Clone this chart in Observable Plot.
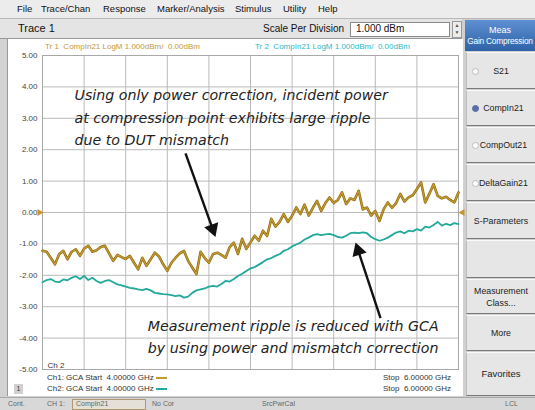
<!DOCTYPE html>
<html>
<head>
<meta charset="utf-8">
<script src="https://cdn.jsdelivr.net/npm/d3@7"></script>
<script src="https://cdn.jsdelivr.net/npm/@observablehq/plot@0.6"></script>
<style>
  html, body { margin: 0; padding: 0; }
  body { width: 535px; height: 410px; position: relative; overflow: hidden; background: #d2d2d2;
         font-family: "Liberation Sans", Arial, sans-serif; color: #222; }
  .abs { position: absolute; white-space: nowrap; }
  #menu { left: 0; top: 0; width: 535px; height: 18px; background: #ececec; border-bottom: 1px solid #b8b8b8; }
  #menu span { position: absolute; top: 3px; font-size: 9.5px; color: #111; }
  #tracebar { left: 0; top: 19px; width: 462px; height: 19px; background: #e4e4e4; border-bottom: 1px solid #999; }
  #panel { left: 7px; top: 39px; width: 455px; height: 357px; background: #fff; border-left: 1px solid #999; }
  #chart { left: 8px; top: 50px; }
  #right { left: 462px; top: 19px; width: 73px; height: 378px; background: #d0d0d0; }
  .btn { position: absolute; left: 466px; width: 69px; background: #e6e6e6; border-top: 1px solid #fafafa;
         border-bottom: 1px solid #7a7a7a; border-left: 1px solid #bdbdbd; box-sizing: border-box;
         display: flex; align-items: center; justify-content: center; text-align: center;
         font-size: 8.8px; color: #222; line-height: 12px; }
  .radio { display: inline-block; width: 5px; height: 5px; border-radius: 50%; background: #fff;
           border: 1px solid #bbb; position: absolute; left: 5px; top: 50%; margin-top: -3px; }
  #status { left: 0; top: 397px; width: 535px; height: 13px; background: #d8d8d8; border-top: 1px solid #a8a8a8; }
  #status span { position: absolute; top: 2px; font-size: 7px; color: #666; }
  .foot { font-size: 8px; color: #333; }
</style>
</head>
<body>
<div id="menu" class="abs">
  <span style="left:17px">File</span>
  <span style="left:41px">Trace/Chan</span>
  <span style="left:103px">Response</span>
  <span style="left:157px">Marker/Analysis</span>
  <span style="left:235px">Stimulus</span>
  <span style="left:283px">Utility</span>
  <span style="left:318px">Help</span>
</div>
<div id="tracebar" class="abs">
  <span class="abs" style="left:18px;top:3px;font-size:11px;color:#111">Trace 1</span>
  <span class="abs" style="left:263px;top:4px;font-size:10px;color:#111">Scale Per Division</span>
  <div class="abs" style="left:350px;top:3px;width:98px;height:13px;background:#fff;border:1px solid #8a8a8a;"></div>
  <span class="abs" style="left:356px;top:4px;font-size:10px;color:#111">1.000 dBm</span>
  <div class="abs" style="left:452px;top:2px;width:8px;height:15px;background:#ececec;border:1px solid #999;font-size:5px;line-height:7px;text-align:center;color:#555">&#9650;<br>&#9660;</div>
</div>
<div id="right" class="abs"></div>
<div class="abs" style="left:465px;top:20px;width:70px;height:31px;background:linear-gradient(#5d8fd2,#2f62a6);color:#fff;font-size:8.3px;">
  <div style="text-align:center;margin-top:5px;font-size:9px">Meas</div>
  <div style="text-align:center;margin-top:1px;letter-spacing:-0.2px">Gain Compression</div>
</div>
<div class="btn" style="top:52px;height:37px"><span class="radio"></span>S21</div>
<div class="btn" style="top:90px;height:36px"><span class="radio" style="background:#5a6fa8;border-color:#5a6fa8"></span>&nbsp;&nbsp;CompIn21</div>
<div class="btn" style="top:127px;height:36px"><span class="radio"></span>&nbsp;&nbsp;CompOut21</div>
<div class="btn" style="top:164px;height:37px"><span class="radio"></span>&nbsp;&nbsp;DeltaGain21</div>
<div class="btn" style="top:202px;height:37px">S-Parameters</div>
<div class="btn" style="top:240px;height:38px"></div>
<div class="btn" style="top:279px;height:35px">Measurement<br>Class...</div>
<div class="btn" style="top:315px;height:36px">More</div>
<div class="btn" style="top:352px;height:44px;font-size:9.5px">Favorites</div>

<div id="panel" class="abs"></div>
<span class="abs" style="left:45px;top:42px;font-size:8px;color:#c09a3a">Tr 1&nbsp; CompIn21 LogM 1.000dBm/&nbsp; 0.00dBm</span>
<span class="abs" style="left:255px;top:42px;font-size:8px;color:#2cb8c4">Tr 2&nbsp; CompIn21 LogM 1.000dBm/&nbsp; 0.00dBm</span>
<div id="chart" class="abs"></div>
<span class="abs foot" style="left:47px;top:373px">Ch1: GCA Start&nbsp; 4.00000 GHz <span style="display:inline-block;width:11px;height:2px;background:#c09a2c;vertical-align:middle"></span></span>
<span class="abs foot" style="left:47px;top:384px">Ch2: GCA Start&nbsp; 4.00000 GHz <span style="display:inline-block;width:11px;height:2px;background:#22aa9c;vertical-align:middle"></span></span>
<span class="abs foot" style="left:383px;top:373px">Stop&nbsp; 6.00000 GHz</span>
<span class="abs foot" style="left:383px;top:384px">Stop&nbsp; 6.00000 GHz</span>
<div class="abs" style="left:14px;top:384px;width:9px;height:10px;background:#d0d0d0;font-size:7px;text-align:center;line-height:10px;color:#333">1</div>

<div id="status" class="abs">
  <span style="left:8px">Cont.</span>
  <span style="left:47px">CH 1:</span>
  <div class="abs" style="left:72px;top:1px;width:72px;height:9px;border:1px solid #b09870;background:#e4e0d8"></div>
  <span style="left:76px">CompIn21</span>
  <span style="left:152px">No Cor</span>
  <span style="left:262px">SrcPwrCal</span>
  <span style="left:505px">LCL</span>
</div>

<script>
// ---- data ----
const startGHz = 4.0;
const stopGHz = 6.0;
const xTicks = [4.0, 4.2, 4.4, 4.6, 4.8, 5.0, 5.2, 5.4, 5.6, 5.8, 6.0];
const yTicks = [5, 4, 3, 2, 1, 0, -1, -2, -3, -4, -5];

// Tr 1: CompIn21, power correction only (dBm)
const tr1 = [
  -1.22,-1.25,-1.45,-1.65,-1.33,-1.22,-1.49,-1.25,-1.17,-1.38,
  -1.15,-1.06,-1.25,-1.20,-1.10,-1.06,-1.30,-1.54,-1.35,-1.42,
  -1.48,-1.38,-1.60,-1.81,-1.44,-1.70,-1.49,-1.28,-1.40,-1.65,
  -1.86,-1.60,-1.44,-1.30,-1.22,-1.54,-1.75,-1.96,-1.25,-1.45,
  -1.60,-1.32,-1.28,-1.35,-1.44,-1.10,-0.96,-1.32,-0.84,-1.16,
  -0.95,-0.74,-0.90,-0.58,-0.75,-0.20,-0.45,-0.30,-0.05,-0.30,
  -0.10, 0.16,-0.05, 0.25,-0.10, 0.15, 0.37, 0.05, 0.30, 0.48,
   0.30, 0.40, 0.64, 0.27, 0.45, 0.40, 0.69, 0.10, 0.16,-0.10,
   0.05,-0.27, 0.10, 0.32, 0.15, 0.30, 0.59, 0.35, 0.48, 0.55,
   0.75, 0.96, 0.32, 0.60, 0.90, 0.53, 0.45, 0.50, 0.40, 0.32,
   0.64
];
// Tr 2: CompIn21 with GCA power + mismatch correction (dBm)
const tr2 = [
  -2.22,-2.15,-2.12,-2.20,-2.22,-2.13,-2.16,-2.08,-2.03,-2.12,
  -2.02,-2.15,-2.08,-2.18,-2.24,-2.18,-2.15,-2.22,-2.29,-2.32,
  -2.36,-2.40,-2.42,-2.45,-2.47,-2.43,-2.48,-2.56,-2.58,-2.60,
  -2.61,-2.63,-2.66,-2.64,-2.71,-2.68,-2.56,-2.48,-2.45,-2.42,
  -2.36,-2.34,-2.36,-2.28,-2.18,-2.20,-2.12,-2.02,-1.95,-1.86,
  -1.78,-1.74,-1.66,-1.58,-1.49,-1.45,-1.38,-1.33,-1.22,-1.17,
  -1.08,-1.02,-0.96,-0.86,-0.80,-0.72,-0.69,-0.72,-0.70,-0.68,
  -0.72,-0.78,-0.80,-0.74,-0.66,-0.64,-0.66,-0.63,-0.66,-0.78,
  -0.85,-0.90,-0.86,-0.80,-0.72,-0.64,-0.60,-0.66,-0.58,-0.60,
  -0.53,-0.58,-0.45,-0.48,-0.40,-0.30,-0.42,-0.36,-0.40,-0.34,
  -0.37
];

const note1Lines = ["Using only power correction, incident power",
                    "at compression point exhibits large ripple",
                    "due to DUT mismatch"];
const note1X = 4.154;
const note1Y = [3.72, 2.98, 2.28];
const note2Lines = ["Measurement ripple is reduced with GCA",
                    "by using power and mismatch correction"];
const note2X = 4.506;
const note2Y = [-3.63, -4.32];

// arrows: tail (x GHz, y dBm) -> head centre, head angle (deg)
const arrowTailX = [4.6875, 5.625];
const arrowTailY = [1.885, -3.364];
const arrowHeadX = [4.818, 5.518];
const arrowHeadY = [-0.52, -1.217];
const arrowAngle = [160.6, -18.4];

// ---- build tables ----
const n = tr1.length;
const freq = tr1.map((_, i) => startGHz + (stopGHz - startGHz) * i / (n - 1));
const t1 = tr1.map((v, i) => ({f: freq[i], v}));
const t2 = tr2.map((v, i) => ({f: freq[i], v}));
const n1 = note1Lines.map((t, i) => ({t, x: note1X, y: note1Y[i]}));
const n2 = note2Lines.map((t, i) => ({t, x: note2X, y: note2Y[i]}));
const arrows = arrowTailX.map((_, i) => ({x1: arrowTailX[i], y1: arrowTailY[i], x2: arrowHeadX[i], y2: arrowHeadY[i], a: arrowAngle[i]}));

const gold = "#c39a2e", goldDark = "#8e6b14", teal = "#22a99c";
const noteFont = "'DejaVu Sans', 'Liberation Sans', Arial, sans-serif";

const chart = Plot.plot({
  width: 460, height: 326,
  marginLeft: 34, marginRight: 10, marginTop: 5, marginBottom: 7,
  x: {domain: [startGHz, stopGHz], axis: null},
  y: {domain: [-5, 5], axis: null},
  style: {background: "transparent", overflow: "visible", fontFamily: "'Liberation Sans', Arial, sans-serif", fontSize: "8px"},
  marks: [
    Plot.gridX(xTicks, {stroke: "#bababa", strokeOpacity: 1}),
    Plot.gridY(yTicks, {stroke: "#bababa", strokeOpacity: 1}),
    Plot.frame({stroke: "#a8a8a8"}),
    Plot.axisY(yTicks, {tickSize: 0, tickPadding: 5, tickFormat: d => d.toFixed(2), fill: "#444", fontSize: 8, label: null}),
    Plot.text(["Ch 2"], {frameAnchor: "bottom-left", dx: 5, dy: -2, fill: "#333", fontSize: 8}),
    Plot.line(t1, {x: "f", y: "v", stroke: goldDark, strokeWidth: 2.6}),
    Plot.line(t1, {x: "f", y: "v", stroke: gold, strokeWidth: 1.3}),
    Plot.line(t2, {x: "f", y: "v", stroke: teal, strokeWidth: 1.8}),
    Plot.dot([{x: startGHz, y: 0}], {x: "x", y: "y", symbol: "triangle", r: 2.6, fill: "#c8962a", stroke: "none", rotate: 90, dx: -3}),
    Plot.dot([{x: stopGHz, y: 0}], {x: "x", y: "y", symbol: "triangle", r: 2.6, fill: "#c8962a", stroke: "none", rotate: -90, dx: 4}),
    Plot.link(arrows, {x1: "x1", y1: "y1", x2: "x2", y2: "y2", stroke: "#111", strokeWidth: 2.4}),
    Plot.dot(arrows, {x: "x2", y: "y2", symbol: "triangle", r: 5.5, fill: "#111", stroke: "none", rotate: "a"}),
    Plot.text(n1, {x: "x", y: "y", text: "t", textAnchor: "start", fontSize: 14.2, fontStyle: "italic", fontFamily: noteFont, fill: "#222"}),
    Plot.text(n2, {x: "x", y: "y", text: "t", textAnchor: "start", fontSize: 14.2, fontStyle: "italic", fontFamily: noteFont, fill: "#222"})
  ]
});
document.getElementById("chart").appendChild(chart);
</script>
</body>
</html>
